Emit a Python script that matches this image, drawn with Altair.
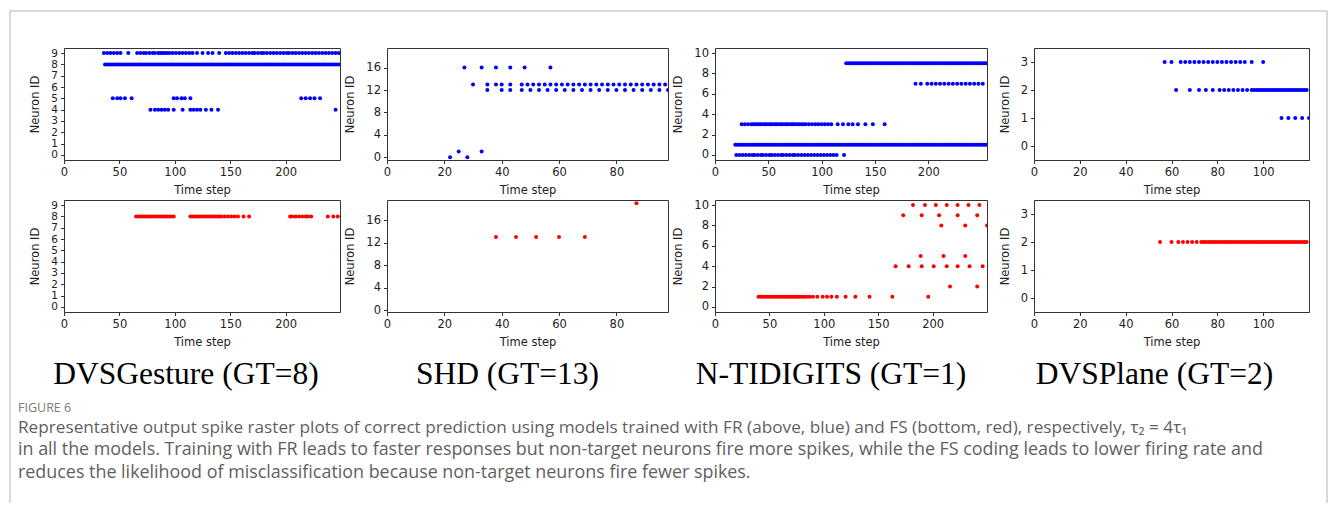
import altair as alt
import pandas as pd

# ---------------- data (time steps at which each output neuron spiked) ----------------
gest_fr = {
    9: [36, 39, 42, 45, 48, 51, 58, 66, 69, 72, 74, 77, 80, 82, 85, 87, 89, 91, 93, 95, 98, 101, 104, 107,
        110, 113, 116, 120, 125, 130, 134, 140, 146, 149, 152, 155, 158, 161, 164, 167, 170, 172, 175, 178,
        180, 183, 186, 189, 192, 195, 198, 201, 203, 206, 209, 212, 215, 218, 221, 224, 227, 230, 233, 236,
        239, 242, 245, 248],
    8: [37, 39, 41, 43, 45, 47, 49, 51, 53, 55, 57, 59, 61, 63, 65, 67, 69, 71, 73, 75, 77, 79, 81, 83, 85,
        87, 89, 91, 93, 95, 97, 99, 101, 103, 105, 107, 109, 111, 113, 115, 117, 119, 121, 123, 125, 127,
        129, 131, 133, 135, 137, 139, 141, 143, 145, 147, 149, 151, 153, 155, 157, 159, 161, 163, 165, 167,
        169, 171, 173, 175, 177, 179, 181, 183, 185, 187, 189, 191, 193, 195, 197, 199, 201, 203, 205, 207,
        209, 211, 213, 215, 217, 219, 221, 223, 225, 227, 229, 231, 233, 235, 237, 239, 241, 243, 245, 247, 249],
    5: [44, 48, 51, 55, 61, 99, 102, 106, 109, 114, 214, 218, 222, 226, 231],
    4: [78, 82, 85, 88, 91, 94, 99, 107, 114, 117, 120, 123, 128, 133, 139, 245],
}
gest_fs = {
    8: [65, 67, 69, 71, 73, 75, 77, 79, 81, 83, 85, 87, 89, 91, 93, 95, 97, 99, 114, 116, 118, 120, 122,
        124, 126, 128, 130, 132, 134, 136, 138, 140, 142, 145, 148, 151, 154, 157, 162, 167, 204, 206, 209,
        212, 215, 218, 220, 223, 238, 243, 247],
}
shd_fr = {
    16: [27, 33, 38, 43, 48, 57],
    13: [30, 35, 38, 40, 43, 47, 49, 51, 53, 55, 57, 59, 61, 63, 65, 67, 69, 71, 73, 75, 77, 79, 81, 83,
         85, 87, 89, 91, 93, 95, 97],
    12: [35, 40, 43, 47, 50, 53, 56, 59, 62, 65, 68, 71, 74, 77, 80, 83, 86, 89, 92, 95, 98],
    1: [25, 33],
    0: [22, 28],
}
shd_fs = {
    13: [38, 45, 52, 60, 69],
    19: [87],
}
nt_fr = {
    9: [123, 125, 127, 129, 131, 133, 135, 137, 139, 141, 143, 145, 147, 149, 151, 153, 155, 157, 159, 161,
        163, 165, 167, 169, 171, 173, 175, 177, 179, 181, 183, 185, 187, 189, 191, 193, 195, 197, 199, 201,
        203, 205, 207, 209, 211, 213, 215, 217, 219, 221, 223, 225, 227, 229, 231, 233, 235, 237, 239, 241,
        243, 245, 247, 249, 251, 253, 255],
    7: [188, 193, 199, 203, 207, 211, 215, 219, 223, 227, 231, 235, 239, 243, 247, 251],
    3: [25, 28, 31, 34, 36, 38, 40, 42, 43, 45, 47, 48, 50, 52, 53, 55, 57, 58, 60, 62, 63, 65, 67, 68, 70,
        72, 73, 75, 77, 79, 81, 83, 85, 88, 91, 94, 97, 100, 103, 106, 109, 115, 120, 125, 129, 134, 141,
        148, 159],
    1: [19, 21, 23, 25, 27, 29, 31, 33, 35, 37, 39, 41, 43, 45, 47, 49, 51, 53, 55, 57, 59, 61, 63, 65, 67,
        69, 71, 73, 75, 77, 79, 81, 83, 85, 87, 89, 91, 93, 95, 97, 99, 101, 103, 105, 107, 109, 111, 113,
        115, 117, 119, 121, 123, 125, 127, 129, 131, 133, 135, 137, 139, 141, 143, 145, 147, 149, 151, 153,
        155, 157, 159, 161, 163, 165, 167, 169, 171, 173, 175, 177, 179, 181, 183, 185, 187, 189, 191, 193,
        195, 197, 199, 201, 203, 205, 207, 209, 211, 213, 215, 217, 219, 221, 223, 225, 227, 229, 231, 233,
        235, 237, 239, 241, 243, 245, 247, 249, 251, 253, 255],
    0: [20, 23, 26, 29, 32, 35, 37, 40, 43, 45, 48, 51, 53, 56, 59, 62, 64, 67, 70, 73, 75, 78, 81, 84, 87,
        90, 93, 96, 99, 102, 105, 108, 111, 114, 121],
}
nt_fs = {
    10: [182, 193, 203, 213, 223, 233, 243],
    9: [173, 190, 206, 223, 241],
    8: [208, 230, 250],
    5: [189, 210, 230],
    4: [166, 178, 190, 201, 213, 223, 234, 246],
    2: [216, 241],
    1: [40, 42, 44, 46, 48, 50, 52, 54, 56, 58, 60, 62, 64, 66, 68, 70, 72, 74, 76, 78, 80, 82, 84, 87, 90,
        94, 99, 103, 107, 112, 120, 129, 142, 163, 196],
}
plane_fr = {
    3: [57, 60, 64, 66, 68, 70, 72, 74, 76, 78, 80, 82, 84, 86, 88, 90, 92, 95, 100],
    2: [62, 68, 72, 75, 78, 81, 83, 85, 87, 89, 91, 93, 95, 96, 97, 98, 99, 100, 101, 102, 103, 104, 105,
        106, 107, 108, 109, 110, 111, 112, 113, 114, 115, 116, 117, 118, 119],
    1: [108, 111, 114, 117, 120],
}
plane_fs = {
    2: [55, 60, 63, 65, 67, 69, 71, 73, 74, 75, 76, 77, 78, 79, 80, 81, 82, 83, 84, 85, 86, 87, 88, 89, 90,
        91, 92, 93, 94, 95, 96, 97, 98, 99, 100, 101, 102, 103, 104, 105, 106, 107, 108, 109, 110, 111, 112,
        113, 114, 115, 116, 117, 118, 119],
}

dataset_titles = ["DVSGesture (GT=8)", "SHD (GT=13)", "N-TIDIGITS (GT=1)", "DVSPlane (GT=2)"]
x_ticks = [[0, 50, 100, 150, 200], [0, 20, 40, 60, 80], [0, 50, 100, 150, 200], [0, 20, 40, 60, 80, 100]]
y_ticks = [[0, 1, 2, 3, 4, 5, 6, 7, 8, 9], [0, 4, 8, 12, 16], [0, 2, 4, 6, 8, 10], [0, 1, 2, 3]]
x_domains_top = [[0, 249], [0, 98], [0, 255], [0, 120]]
x_domains_bot = [[0, 249], [0, 98], [0, 250], [0, 120]]
y_domains_top = [[-0.45, 9.45], [-0.5, 19.5], [-0.5, 10.5], [-0.5, 3.5]]
y_domains_bot = [[-0.45, 9.45], [-0.35, 19.6], [-0.5, 10.5], [-0.5, 3.5]]

figure_label = "FIGURE 6"
caption_lines = [
    "Representative output spike raster plots of correct prediction using models trained with FR (above, blue) and FS (bottom, red), respectively, τ₂ = 4τ₁",
    "in all the models. Training with FR leads to faster responses but non-target neurons fire more spikes, while the FS coding leads to lower firing rate and",
    "reduces the likelihood of misclassification because non-target neurons fire fewer spikes.",
]

# ---------------- layout / style ----------------
WIDTHS = [276, 281, 272, 275]
H = 112
TITLE_DX = [-16, -20, -20, -17]
Y_LABEL_SIZE = [10.5, 11.5, 11.5, 11.5]
CAPTION_SIZE = [17.2, 17.9, 17.9]
BLUE = "#0000ff"
RED = "#ff0000"
TXT = "#222222"


def to_df(d):
    rows = [{"t": t, "n": n} for n, ts in d.items() for t in ts]
    return pd.DataFrame(rows)


def raster(d, color, xdom, xt, ydom, yt, w, ysize):
    return alt.Chart(to_df(d)).mark_circle(size=16, color=color, opacity=1, clip=True).encode(
        x=alt.X("t:Q", scale=alt.Scale(domain=xdom, nice=False, zero=False),
                axis=alt.Axis(values=xt, title="Time step", format="d", titlePadding=6)),
        y=alt.Y("n:Q", scale=alt.Scale(domain=ydom, nice=False, zero=False),
                axis=alt.Axis(values=yt, title="Neuron ID", format="d", titlePadding=10, labelFontSize=ysize)),
    ).properties(width=w, height=H)


def text_layer(s, x, y, font, size, color, align="left", weight="normal"):
    return alt.Chart(pd.DataFrame({"s": [s]})).mark_text(
        font=font, fontSize=size, color=color, align=align, baseline="alphabetic", fontWeight=weight
    ).encode(x=alt.value(x), y=alt.value(y), text="s:N")


def rule(x, x2, y, y2):
    return alt.Chart(pd.DataFrame({"k": [0]})).mark_rule(color="#b4b4b4", strokeWidth=1).encode(
        x=alt.value(x), x2=alt.value(x2), y=alt.value(y), y2=alt.value(y2))


tops = [gest_fr, shd_fr, nt_fr, plane_fr]
bots = [gest_fs, shd_fs, nt_fs, plane_fs]

panels = []
for i in range(4):
    panels.append(raster(tops[i], BLUE, x_domains_top[i], x_ticks[i], y_domains_top[i], y_ticks[i],
                         WIDTHS[i], Y_LABEL_SIZE[i]))

for i in range(4):
    w = WIDTHS[i]
    layers = [raster(bots[i], RED, x_domains_bot[i], x_ticks[i], y_domains_bot[i], y_ticks[i], w, Y_LABEL_SIZE[i]),
              text_layer(dataset_titles[i], w / 2 + TITLE_DX[i], 184, "Liberation Serif", 31.5, "#000000", align="center")]
    if i == 0:
        # frame of the figure card and caption (positioned relative to this panel)
        L, R, T, B = -54, 1263, -189, 303
        layers += [rule(L, R, T, T), rule(L, L, T, B), rule(R, R, T, B),
                   text_layer(figure_label, -46, 212, "Open Sans", 12.5, "#7a7a7a")]
        for k, line in enumerate(caption_lines):
            layers.append(text_layer(line, -46, 232.5 + 22.5 * k, "Open Sans", CAPTION_SIZE[k], "#5f5f5f"))
    panels.append(alt.layer(*layers))

chart = alt.concat(*panels, columns=4, spacing={"row": 40, "column": 47}, bounds="flush", align="each").properties(
    padding={"left": 1, "top": 2, "right": 0, "bottom": 0}, background="#ffffff"
).configure_view(stroke="#333333", strokeWidth=1).configure_axis(
    domain=False, grid=False, ticks=True, tickSize=3.5, tickColor="#333333", tickWidth=1,
    labelFont="DejaVu Sans", labelFontSize=11.5, labelColor=TXT, labelPadding=3,
    labelFlush=False, labelOverlap=False,
    titleFont="DejaVu Sans", titleFontSize=11.5, titleFontWeight="normal", titleColor=TXT,
)

chart.save("out.html", embed_options={"renderer": "svg", "actions": False})
